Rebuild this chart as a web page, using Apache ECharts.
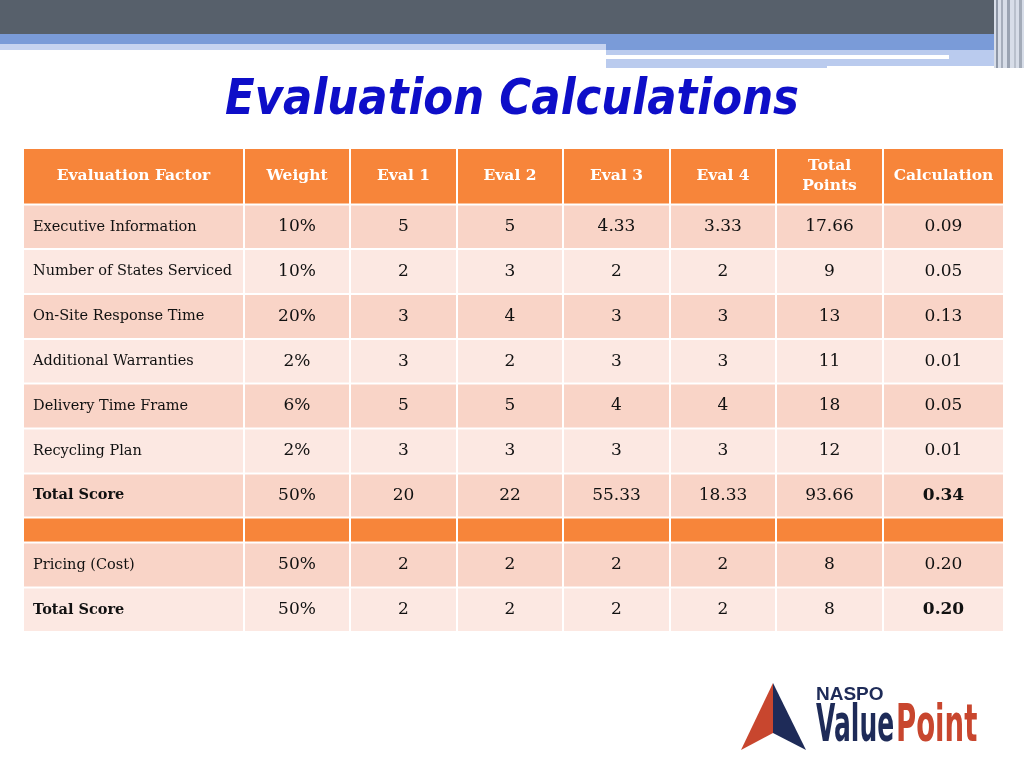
<!DOCTYPE html>
<html><head><meta charset="utf-8">
<script src="https://cdn.jsdelivr.net/npm/echarts@6/dist/echarts.min.js"></script>
<style>html,body{margin:0;padding:0;background:#fff}#c{width:1024px;height:768px}</style>
</head><body><div id="c"></div>
<script>
// ---- data ----
const headers = ['Evaluation Factor', 'Weight', 'Eval 1', 'Eval 2', 'Eval 3', 'Eval 4', 'Total\nPoints', 'Calculation'];
const factors = ['Executive Information', 'Number of States Serviced', 'On-Site Response Time', 'Additional Warranties', 'Delivery Time Frame', 'Recycling Plan', 'Total Score', 'Pricing (Cost)', 'Total Score'];
const weight = [10, 10, 20, 2, 6, 2, 50, 50, 50];
const eval1 = [5, 2, 3, 3, 5, 3, 20, 2, 2];
const eval2 = [5, 3, 4, 2, 5, 3, 22, 2, 2];
const eval3 = [4.33, 2, 3, 3, 4, 3, 55.33, 2, 2];
const eval4 = [3.33, 2, 3, 3, 4, 3, 18.33, 2, 2];
const totalPoints = [17.66, 9, 13, 11, 18, 12, 93.66, 8, 8];
const calculation = [0.09, 0.05, 0.13, 0.01, 0.05, 0.01, 0.34, 0.20, 0.20];
const spacerAfter = 7; // orange separator after the first 7 rows

// ---- layout (axis units) ----
const colEdges = [0, 221, 327, 434, 540, 647, 753, 860, 981];
const rowEdges = [0, 56.5, 101, 146, 191, 235.5, 280.5, 325.5, 369.5, 394.5, 439.5, 484];

const ORANGE = '#F7853A', PEACH = '#F9D4C7', LIGHT = '#FCE8E2';
const SERIF = "'DejaVu Serif', Georgia, serif";
const NAVY = '#1E2B58', RED = '#C8462E';

const cells = [];
headers.forEach((h, c) => cells.push([c, 0, h, 'head', 0]));
factors.forEach((f, i) => {
  const slot = i < spacerAfter ? i + 1 : i + 2;
  const bold = f === 'Total Score';
  const shade = (i < spacerAfter ? i % 2 === 0 : (i - spacerAfter) % 2 === 0) ? 'peach' : 'light';
  const vals = [f, weight[i] + '%', String(eval1[i]), String(eval2[i]), String(eval3[i]), String(eval4[i]), String(totalPoints[i]), calculation[i].toFixed(2)];
  vals.forEach((v, c) => cells.push([c, slot, v, shade, bold ? 1 : 0]));
});
for (let c = 0; c < headers.length; c++) cells.push([c, spacerAfter + 1, '', 'spacer', 0]);

const chart = echarts.init(document.getElementById('c'), null, {renderer: 'canvas'});
chart.setOption({
  animation: false,
  backgroundColor: '#ffffff',
  grid: {left: 23, top: 148, width: 981, height: 484},
  xAxis: {type: 'value', min: 0, max: 981, show: false},
  yAxis: {type: 'value', min: 0, max: 484, inverse: true, show: false},
  graphic: [
    {type: 'rect', shape: {x: 0, y: 0, width: 1024, height: 35}, style: {fill: '#57606B'}},
    {type: 'rect', shape: {x: 0, y: 34, width: 1024, height: 16}, style: {fill: '#7A9BD8'}},
    {type: 'rect', shape: {x: 0, y: 44, width: 606, height: 6}, style: {fill: '#C6D3F0'}},
    {type: 'rect', shape: {x: 606, y: 50, width: 390, height: 18}, style: {fill: '#BACBEE'}},
    {type: 'rect', shape: {x: 606, y: 55, width: 343, height: 4}, style: {fill: '#ffffff'}},
    {type: 'rect', shape: {x: 827, y: 66, width: 170, height: 3}, style: {fill: '#ffffff'}},
    {type: 'rect', shape: {x: 994, y: 0, width: 30, height: 68}, style: {fill: '#D7DDE8'}},
    {type: 'rect', shape: {x: 996, y: 0, width: 2, height: 68}, style: {fill: '#8D96A6'}},
    {type: 'rect', shape: {x: 1001, y: 0, width: 2, height: 68}, style: {fill: '#A5ADBB'}},
    {type: 'rect', shape: {x: 1007, y: 0, width: 3, height: 68}, style: {fill: '#9AA3B2'}},
    {type: 'rect', shape: {x: 1014, y: 0, width: 2, height: 68}, style: {fill: '#B9C0CC'}},
    {type: 'rect', shape: {x: 1019, y: 0, width: 3, height: 68}, style: {fill: '#A3ABB8'}},
    // title
    {type: 'text', x: 512, y: 101, scaleX: 0.87, style: {text: 'Evaluation Calculations', align: 'center', verticalAlign: 'middle', fill: '#0E0EC8', font: "italic bold 50px 'DejaVu Sans', sans-serif"}},
    // logo
    {type: 'polygon', shape: {points: [[773, 683], [741, 750], [773, 733]]}, style: {fill: RED}},
    {type: 'polygon', shape: {points: [[773, 683], [773, 733], [806, 750]]}, style: {fill: NAVY}},
    {type: 'text', x: 816, y: 685, style: {text: 'NASPO', fill: NAVY, font: "bold 19px 'Liberation Sans', sans-serif"}},
    {type: 'text', x: 816, y: 702, scaleX: 0.49, style: {text: 'Value', fill: NAVY, font: "bold 51px 'DejaVu Sans', sans-serif"}},
    {type: 'text', x: 896, y: 702, scaleX: 0.54, style: {text: 'Point', fill: RED, font: "bold 51px 'DejaVu Sans', sans-serif"}}
  ],
  series: [{
    type: 'custom',
    coordinateSystem: 'cartesian2d',
    data: cells,
    encode: {x: 0, y: 1},
    renderItem: function (params, api) {
      const c = api.value(0), r = api.value(1);
      const d = cells[params.dataIndex];
      const kind = d[3], bold = d[4];
      const p0 = api.coord([colEdges[c], rowEdges[r]]);
      const p1 = api.coord([colEdges[c + 1], rowEdges[r + 1]]);
      const x = p0[0] + 1, y = p0[1] + 1, w = p1[0] - p0[0] - 2, h = p1[1] - p0[1] - 2;
      const fill = kind === 'head' || kind === 'spacer' ? ORANGE : (kind === 'peach' ? PEACH : LIGHT);
      const children = [{type: 'rect', shape: {x, y, width: w, height: h}, style: {fill}}];
      if (d[2]) {
        const isHead = kind === 'head';
        const left = c === 0 && !isHead;
        children.push({
          type: 'text',
          style: {
            text: d[2],
            x: left ? x + 9 : x + w / 2,
            y: y + h / 2,
            align: left ? 'left' : 'center',
            verticalAlign: 'middle',
            fill: isHead ? '#ffffff' : '#111111',
            fontFamily: SERIF,
            fontSize: isHead ? 15.5 : (c === 0 ? 14.5 : 17),
            fontWeight: isHead || (bold && (c === 0 || c === 7)) ? 'bold' : 'normal',
            lineHeight: 20
          }
        });
      }
      return {type: 'group', children};
    }
  }]
});
</script></body></html>
